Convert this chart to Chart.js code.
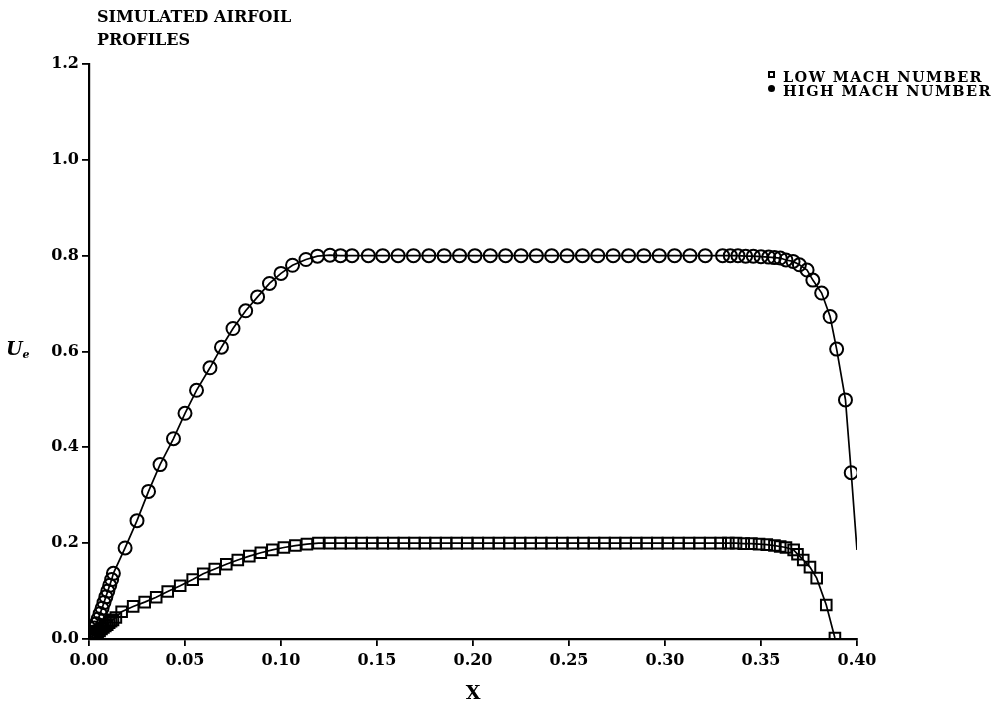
<!DOCTYPE html>
<html>
<head>
<meta charset="utf-8">
<script src="https://cdn.jsdelivr.net/npm/chart.js@4.4.0/dist/chart.umd.min.js"></script>
<style>
  body { margin: 0; background: #fff; }
  #wrap { position: relative; width: 1005px; height: 713px; }
  .txt { position: absolute; font-family: 'DejaVu Serif', serif; font-weight: bold; color: #000; white-space: nowrap; }
  #title { left: 97px; top: 5px; font-size: 16px; line-height: 23px; }
  .leg { font-size: 14.5px; letter-spacing: 1.4px; left: 783px; }
  .mk { position: absolute; box-sizing: border-box; }
  #ylab { left: 6px; top: 337px; font-size: 19px; font-style: italic; }
  #ylab sub { font-size: 11px; vertical-align: -3px; }
</style>
</head>
<body>
<div id="wrap">
  <canvas id="chart" width="1005" height="713"></canvas>
  <div class="txt" id="title">SIMULATED AIRFOIL<br>PROFILES</div>
  <div class="mk" style="left:768px; top:71px; width:7px; height:7px; border:2px solid #000;"></div>
  <div class="txt leg" style="top:68px;">LOW MACH NUMBER</div>
  <div class="mk" style="left:768px; top:85px; width:7px; height:7px; border-radius:50%; background:#000;"></div>
  <div class="txt leg" style="top:82px;">HIGH MACH NUMBER</div>
  <div class="txt" id="ylab">U<sub>e</sub></div>
</div>
<script>
// tick labels
const xTicks = [0, 0.05, 0.10, 0.15, 0.20, 0.25, 0.30, 0.35, 0.40];
const yTicks = [0, 0.2, 0.4, 0.6, 0.8, 1.0, 1.2];

// low mach number (squares)
const lowX = [0.0005, 0.0015, 0.0025, 0.0035, 0.0045, 0.0055, 0.0065, 0.0075, 0.0085, 0.0095,
  0.0105, 0.0115, 0.0125, 0.014, 0.017, 0.023, 0.029, 0.035, 0.041, 0.0475,
  0.054, 0.0595, 0.0655, 0.0715, 0.0775, 0.0835, 0.0895, 0.0955, 0.1015, 0.1075,
  0.1135, 0.1195, 0.1255, 0.131, 0.1365, 0.142, 0.1475, 0.153, 0.1585, 0.164,
  0.1695, 0.175, 0.1805, 0.186, 0.1915, 0.197, 0.2025, 0.208, 0.2135, 0.219,
  0.2245, 0.23, 0.2355, 0.241, 0.2465, 0.252, 0.2575, 0.263, 0.2685, 0.274,
  0.2795, 0.285, 0.2905, 0.296, 0.3015, 0.307, 0.3125, 0.318, 0.3235, 0.329,
  0.333, 0.337, 0.341, 0.345, 0.349, 0.353, 0.357, 0.36, 0.363, 0.367,
  0.369, 0.372, 0.3755, 0.379, 0.384, 0.3885];
const lowY = [0.002, 0.005, 0.008, 0.011, 0.014, 0.017, 0.021, 0.024, 0.027, 0.030,
  0.034, 0.037, 0.040, 0.045, 0.057, 0.068, 0.077, 0.087, 0.099, 0.111,
  0.124, 0.136, 0.146, 0.156, 0.165, 0.173, 0.180, 0.186, 0.191, 0.195,
  0.198, 0.200, 0.200, 0.200, 0.200, 0.200, 0.200, 0.200, 0.200, 0.200,
  0.200, 0.200, 0.200, 0.200, 0.200, 0.200, 0.200, 0.200, 0.200, 0.200,
  0.200, 0.200, 0.200, 0.200, 0.200, 0.200, 0.200, 0.200, 0.200, 0.200,
  0.200, 0.200, 0.200, 0.200, 0.200, 0.200, 0.200, 0.200, 0.200, 0.200,
  0.200, 0.200, 0.199, 0.199, 0.198, 0.197, 0.195, 0.193, 0.191, 0.186,
  0.177, 0.165, 0.150, 0.127, 0.071, 0.002];

// high mach number (circles)
const highX = [0.0002, 0.0008, 0.0018, 0.0028, 0.0038, 0.0048, 0.0058, 0.0068, 0.0078, 0.0088,
  0.0098, 0.0108, 0.0118, 0.0127, 0.0188, 0.025, 0.031, 0.037, 0.044, 0.050,
  0.056, 0.063, 0.069, 0.075, 0.0816, 0.0878, 0.094, 0.100, 0.106, 0.113,
  0.119, 0.1255, 0.131, 0.137, 0.1455, 0.153, 0.161, 0.169, 0.177, 0.185,
  0.193, 0.201, 0.209, 0.217, 0.225, 0.233, 0.241, 0.249, 0.257, 0.265,
  0.273, 0.281, 0.289, 0.297, 0.305, 0.313, 0.321, 0.330, 0.334, 0.338,
  0.342, 0.346, 0.350, 0.354, 0.357, 0.360, 0.363, 0.3667, 0.370, 0.374,
  0.377, 0.3816, 0.386, 0.3894, 0.394, 0.397];
const highY = [0.001, 0.006, 0.014, 0.023, 0.032, 0.042, 0.053, 0.064, 0.076, 0.088,
  0.100, 0.112, 0.124, 0.137, 0.190, 0.247, 0.308, 0.364, 0.418, 0.471,
  0.519, 0.566, 0.609, 0.648, 0.685, 0.714, 0.742, 0.763, 0.780, 0.792,
  0.799, 0.801, 0.800, 0.800, 0.800, 0.800, 0.800, 0.800, 0.800, 0.800,
  0.800, 0.800, 0.800, 0.800, 0.800, 0.800, 0.800, 0.800, 0.800, 0.800,
  0.800, 0.800, 0.800, 0.800, 0.800, 0.800, 0.800, 0.800, 0.800, 0.800,
  0.799, 0.799, 0.798, 0.797, 0.796, 0.795, 0.791, 0.788, 0.781, 0.770,
  0.749, 0.722, 0.673, 0.605, 0.499, 0.347];

// the high mach curve runs on past the last marker
const highTailX = [0.400];
const highTailY = [0.186];

function pts(xs, ys) {
    return xs.map((x, i) => ({ x: x, y: ys[i] }));
}

Chart.defaults.font.family = "'DejaVu Serif', serif";
Chart.defaults.font.weight = "bold";
Chart.defaults.color = "#000";

const axisGrid = { drawOnChartArea: false, drawTicks: true, tickLength: 7, color: "#000", lineWidth: 1.8 };
const axisBorder = { display: true, color: "#000", width: 2.2 };

let ctx = document.getElementById("chart").getContext("2d");

new Chart(ctx, {
    type: "scatter",
    data: {
        datasets: [
            {
                label: "LOW MACH NUMBER",
                data: pts(lowX, lowY),
                pointStyle: "rect",
                pointRadius: 7.5,
                borderColor: "#000",
                backgroundColor: "rgba(0,0,0,0)",
                borderWidth: 2,
                showLine: false
            },
            {
                label: "HIGH MACH NUMBER",
                data: pts(highX, highY),
                pointStyle: "circle",
                pointRadius: 6.5,
                borderColor: "#000",
                backgroundColor: "rgba(0,0,0,0)",
                borderWidth: 2,
                showLine: false
            },
            {
                label: "low curve",
                data: pts(lowX, lowY),
                showLine: true,
                pointRadius: 0,
                borderColor: "#000",
                borderWidth: 1.7
            },
            {
                label: "high curve",
                data: pts(highX.concat(highTailX), highY.concat(highTailY)),
                showLine: true,
                pointRadius: 0,
                borderColor: "#000",
                borderWidth: 1.7
            }
        ]
    },
    options: {
        responsive: false,
        animation: false,
        layout: { padding: { top: 64, right: 148, left: 0, bottom: 0 } },
        plugins: {
            legend: { display: false },
            tooltip: { enabled: false }
        },
        scales: {
            x: {
                type: "linear",
                min: 0,
                max: 0.4,
                afterBuildTicks: s => { s.ticks = xTicks.map(v => ({ value: v })); },
                afterFit: s => { s.height = 74; },
                ticks: { callback: v => v.toFixed(2), font: { size: 16 }, padding: 5, maxRotation: 0, autoSkip: false },
                grid: axisGrid,
                border: axisBorder,
                title: { display: true, text: "X", font: { size: 19 }, padding: { top: 4, bottom: 8 } }
            },
            y: {
                min: 0,
                max: 1.2,
                afterBuildTicks: s => { s.ticks = yTicks.map(v => ({ value: v })); },
                afterFit: s => { s.width = 89; },
                ticks: { callback: v => v.toFixed(1), font: { size: 16 }, padding: 3 },
                grid: axisGrid,
                border: axisBorder
            }
        }
    }
});
</script>
</body>
</html>
